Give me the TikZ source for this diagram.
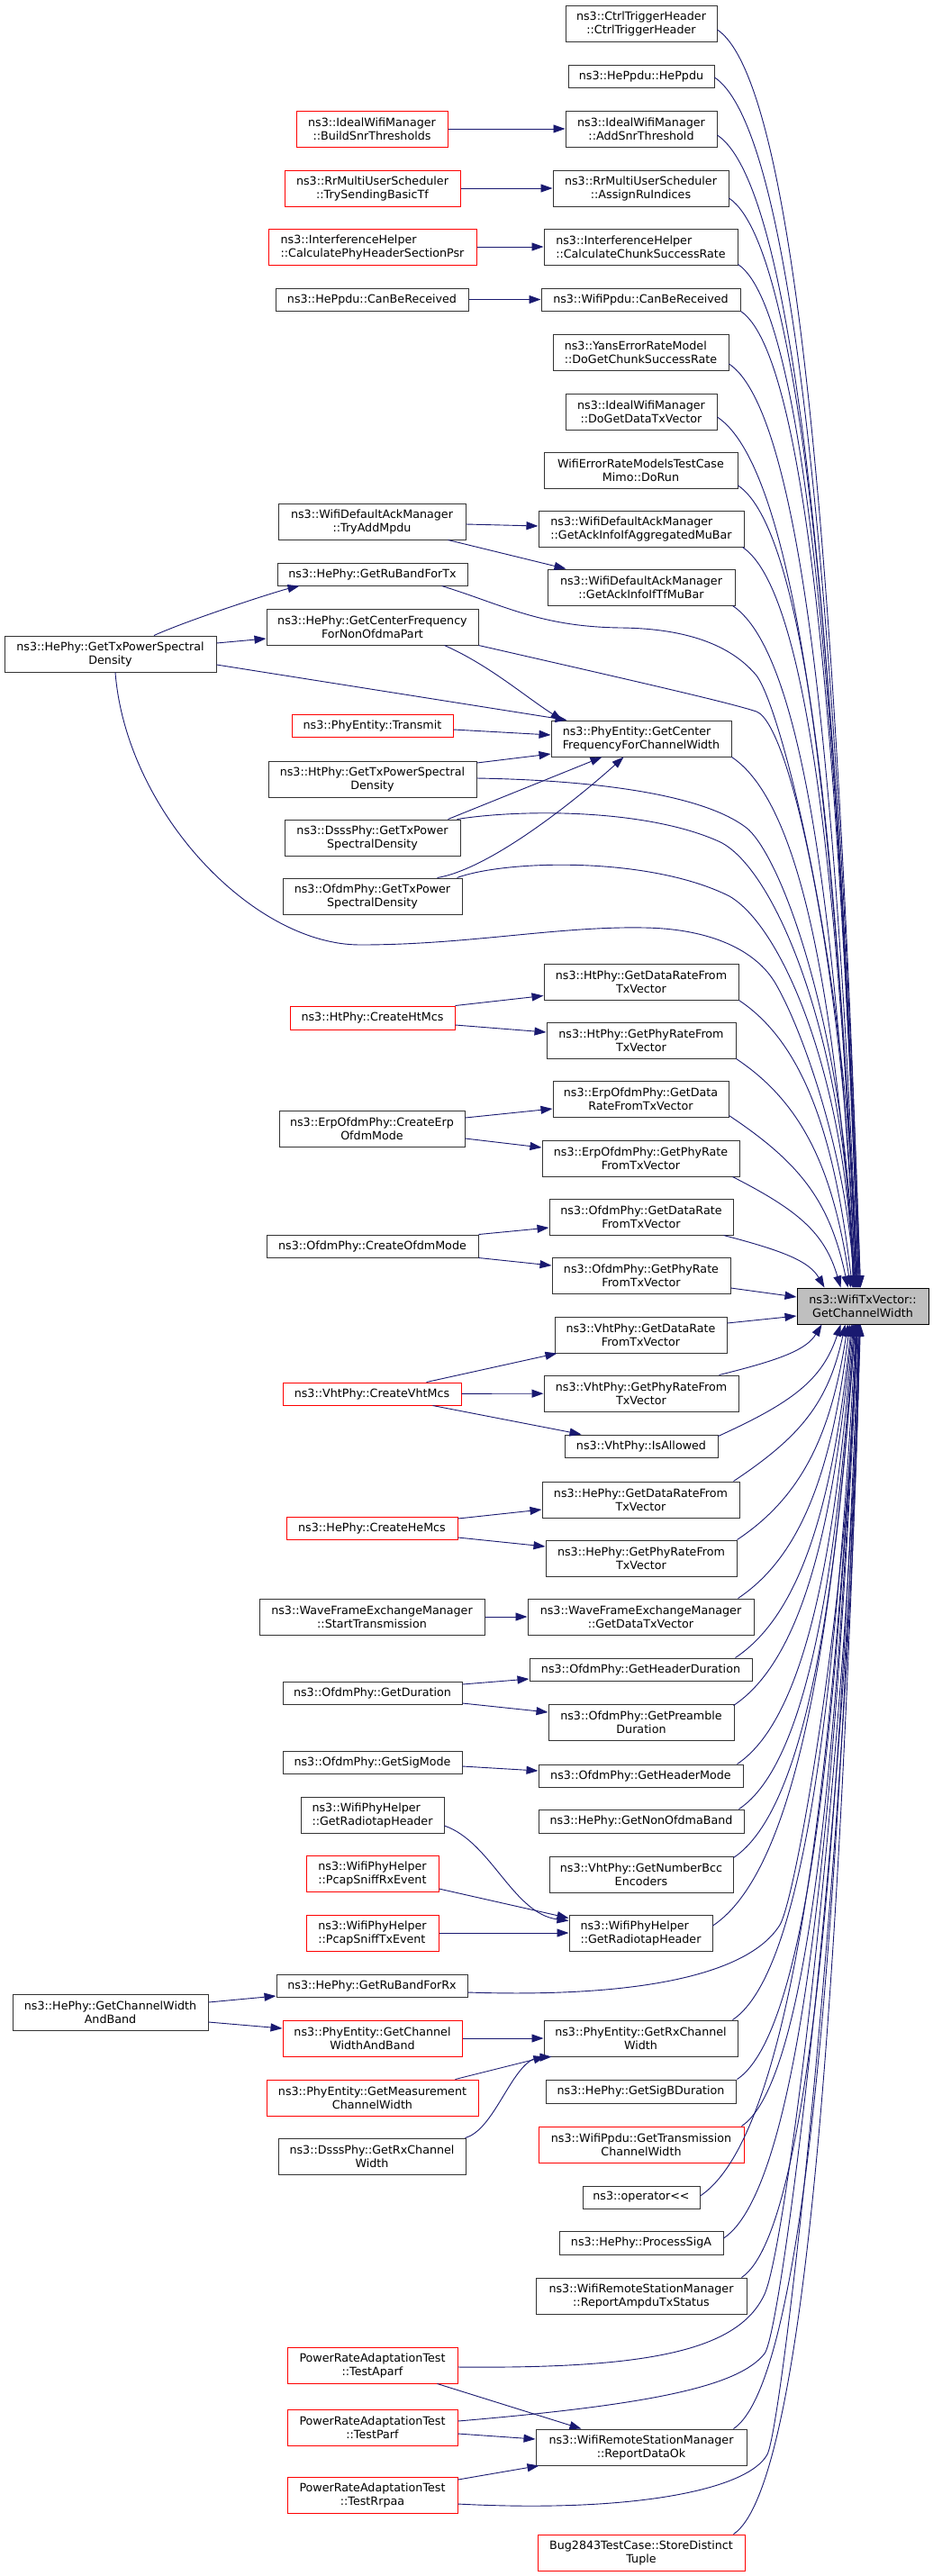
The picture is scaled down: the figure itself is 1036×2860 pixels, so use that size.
\documentclass[tikz,border=0pt]{standalone}
\usepackage{fontspec}
\setmainfont{DejaVu Sans}
\usetikzlibrary{arrows.meta,calc}
\definecolor{edgec}{HTML}{191970}
\definecolor{bordc}{HTML}{333333}
\definecolor{tfill}{HTML}{BFBFBF}
\tikzset{
  box/.style={draw=bordc, line width=1pt, fill=white, inner sep=0pt, align=center, font=\fontsize{12.7}{15}\selectfont},
  rb/.style={draw=red},
  lft/.style={align=left},
  edg/.style={draw=edgec, line width=0.9pt, -{Triangle[length=13pt,width=9pt]}},
}
% #1 style, #2 name, #3 x1, #4 x2, #5 y1, #6 y2, #7 text
\newcommand\nb[7][]{\node[box,#1,minimum width={(#4-#3)*1pt},minimum height={(#6-#5)*1pt}] (#2) at ({(#3+#4)/2},{(#5+#6)/2}) {#7};}
% caller above the target: start point, landing x on the top side
\newcommand\tdn[2]{\draw[edg] let \p1=#1, \p2=($(t.north west)+(#2-885,0)$), \n1={\x2-\x1}, \n2={\y1-\y2}, \n3={min(0.4*\n1,0.3*\n2)} in (\p1) .. controls ($(\p1)+(0.6*\n1,-\n3)$) and ($(\p2)+(-0.15*\n1,0.5*\n2)$) .. (\p2);}
% caller below the target: start point, landing x on the bottom side
\newcommand\tup[2]{\draw[edg] let \p1=#1, \p2=($(t.south west)+(#2-885,0)$), \n1={\x2-\x1}, \n2={\y2-\y1}, \n3={min(0.4*\n1,0.3*\n2)} in (\p1) .. controls ($(\p1)+(0.6*\n1,\n3)$) and ($(\p2)+(-0.15*\n1,-0.5*\n2)$) .. (\p2);}
\begin{document}
\begin{tikzpicture}[x=1pt,y=-1pt]
\fill[white] (0,0) rectangle (1036,2860);
\useasboundingbox (0,0) rectangle (1036,2860);
% target
\nb[fill=tfill,draw=black]{t}{885}{1031}{1430}{1470}{ns3::WifiTxVector::\\GetChannelWidth}
% column 2
\nb{ctrl}{628}{796}{6}{46}{ns3::CtrlTriggerHeader\\::CtrlTriggerHeader}
\nb{heppdu}{631}{793}{72}{97}{ns3::HePpdu::HePpdu}
\nb{addsnr}{628}{796}{123}{163}{ns3::IdealWifiManager\\::AddSnrThreshold}
\nb{assignru}{614}{809}{189}{229}{ns3::RrMultiUserScheduler\\::AssignRuIndices}
\nb[lft]{chunk}{604}{819}{254}{294}{ns3::InterferenceHelper\\::CalculateChunkSuccessRate}
\nb{wppdu}{601}{822}{320}{345}{ns3::WifiPpdu::CanBeReceived}
\nb[lft]{yans}{614}{809}{371}{411}{ns3::YansErrorRateModel\\::DoGetChunkSuccessRate}
\nb{dogdtx}{628}{796}{437}{477}{ns3::IdealWifiManager\\::DoGetDataTxVector}
\nb{mimo}{604}{819}{502}{542}{WifiErrorRateModelsTestCase\\Mimo::DoRun}
\nb[lft]{aggmu}{598}{826}{567}{607}{ns3::WifiDefaultAckManager\\::GetAckInfoIfAggregatedMuBar}
\nb{tfmu}{608}{816}{632}{672}{ns3::WifiDefaultAckManager\\::GetAckInfoIfTfMuBar}
\nb[lft]{pecf}{612}{812}{800}{840}{ns3::PhyEntity::GetCenter\\FrequencyForChannelWidth}
\nb{htdr}{604}{820}{1070}{1110}{ns3::HtPhy::GetDataRateFrom\\TxVector}
\nb{htpr}{607}{817}{1135}{1175}{ns3::HtPhy::GetPhyRateFrom\\TxVector}
\nb{erpdr}{614}{809}{1200}{1240}{ns3::ErpOfdmPhy::GetData\\RateFromTxVector}
\nb{erppr}{602}{821}{1266}{1306}{ns3::ErpOfdmPhy::GetPhyRate\\FromTxVector}
\nb{ofdr}{610}{814}{1331}{1371}{ns3::OfdmPhy::GetDataRate\\FromTxVector}
\nb{ofpr}{613}{811}{1396}{1436}{ns3::OfdmPhy::GetPhyRate\\FromTxVector}
\nb{vhtdr}{616}{807}{1462}{1502}{ns3::VhtPhy::GetDataRate\\FromTxVector}
\nb{vhtpr}{604}{820}{1527}{1567}{ns3::VhtPhy::GetPhyRateFrom\\TxVector}
\nb{vhtal}{627}{797}{1593}{1618}{ns3::VhtPhy::IsAllowed}
\nb{hedr}{602}{821}{1645}{1685}{ns3::HePhy::GetDataRateFrom\\TxVector}
\nb{hepr}{606}{818}{1710}{1750}{ns3::HePhy::GetPhyRateFrom\\TxVector}
\nb{wfgdtx}{586}{837}{1775}{1815}{ns3::WaveFrameExchangeManager\\::GetDataTxVector}
\nb{ofhd}{588}{835}{1841}{1866}{ns3::OfdmPhy::GetHeaderDuration}
\nb{ofpd}{609}{815}{1892}{1932}{ns3::OfdmPhy::GetPreamble\\Duration}
\nb{ofhm}{598}{825}{1959}{1984}{ns3::OfdmPhy::GetHeaderMode}
\nb{henob}{598}{826}{2009}{2035}{ns3::HePhy::GetNonOfdmaBand}
\nb{vhtbcc}{610}{814}{2061}{2101}{ns3::VhtPhy::GetNumberBcc\\Encoders}
\nb[lft]{rth2}{632}{791}{2126}{2166}{ns3::WifiPhyHelper\\::GetRadiotapHeader}
\nb{perx}{604}{819}{2243}{2283}{ns3::PhyEntity::GetRxChannel\\Width}
\nb{hesigb}{606}{817}{2309}{2335}{ns3::HePhy::GetSigBDuration}
\nb[rb]{txcw}{598}{826}{2361}{2401}{ns3::WifiPpdu::GetTransmission\\ChannelWidth}
\nb{oper}{647}{777}{2427}{2452}{ns3::operator\mbox{<}\mbox{<}}
\nb{sigA}{621}{803}{2477}{2503}{ns3::HePhy::ProcessSigA}
\nb{ampdu}{595}{829}{2529}{2569}{ns3::WifiRemoteStationManager\\::ReportAmpduTxStatus}
\nb{rdok}{595}{829}{2697}{2737}{ns3::WifiRemoteStationManager\\::ReportDataOk}
\nb[rb]{bug}{597}{827}{2814}{2854}{Bug2843TestCase::StoreDistinct\\Tuple}
% column 1
\nb[rb]{bsnr}{329}{497}{123}{163}{ns3::IdealWifiManager\\::BuildSnrThresholds}
\nb[rb]{tsbt}{316}{511}{189}{229}{ns3::RrMultiUserScheduler\\::TrySendingBasicTf}
\nb[rb,lft]{phsp}{298}{529}{254}{294}{ns3::InterferenceHelper\\::CalculatePhyHeaderSectionPsr}
\nb{hecbr}{306}{520}{320}{345}{ns3::HePpdu::CanBeReceived}
\nb{tam}{309}{517}{559}{599}{ns3::WifiDefaultAckManager\\::TryAddMpdu}
\nb{rbtx}{308}{519}{625}{650}{ns3::HePhy::GetRuBandForTx}
\nb{cfno}{296}{531}{676}{716}{ns3::HePhy::GetCenterFrequency\\ForNonOfdmaPart}
\nb[rb]{trans}{324}{503}{793}{818}{ns3::PhyEntity::Transmit}
\nb{httx}{298}{529}{845}{885}{ns3::HtPhy::GetTxPowerSpectral\\Density}
\nb{dstx}{316}{511}{910}{950}{ns3::DsssPhy::GetTxPower\\SpectralDensity}
\nb{oftx}{314}{513}{975}{1015}{ns3::OfdmPhy::GetTxPower\\SpectralDensity}
\nb[rb]{htmcs}{322}{505}{1117}{1143}{ns3::HtPhy::CreateHtMcs}
\nb{erpm}{310}{516}{1233}{1273}{ns3::ErpOfdmPhy::CreateErp\\OfdmMode}
\nb{ofm}{296}{531}{1371}{1396}{ns3::OfdmPhy::CreateOfdmMode}
\nb[rb]{vhtmcs}{314}{512}{1535}{1560}{ns3::VhtPhy::CreateVhtMcs}
\nb[rb]{hemcs}{318}{508}{1684}{1709}{ns3::HePhy::CreateHeMcs}
\nb{wfst}{288}{538}{1775}{1815}{ns3::WaveFrameExchangeManager\\::StartTransmission}
\nb{ofdur}{314}{513}{1867}{1892}{ns3::OfdmPhy::GetDuration}
\nb{ofsig}{314}{513}{1944}{1969}{ns3::OfdmPhy::GetSigMode}
\nb[lft]{rth1}{334}{493}{1995}{2035}{ns3::WifiPhyHelper\\::GetRadiotapHeader}
\nb[rb,lft]{psrx}{340}{487}{2060}{2100}{ns3::WifiPhyHelper\\::PcapSniffRxEvent}
\nb[rb,lft]{pstx}{340}{487}{2126}{2166}{ns3::WifiPhyHelper\\::PcapSniffTxEvent}
\nb{rbrx}{307}{519}{2192}{2217}{ns3::HePhy::GetRuBandForRx}
\nb[rb]{pecwb}{314}{513}{2243}{2283}{ns3::PhyEntity::GetChannel\\WidthAndBand}
\nb[rb]{pemcw}{296}{531}{2309}{2349}{ns3::PhyEntity::GetMeasurement\\ChannelWidth}
\nb{dsrx}{309}{517}{2374}{2414}{ns3::DsssPhy::GetRxChannel\\Width}
\nb[rb]{aparf}{319}{508}{2606}{2646}{PowerRateAdaptationTest\\::TestAparf}
\nb[rb]{parf}{319}{508}{2675}{2715}{PowerRateAdaptationTest\\::TestParf}
\nb[rb]{rrpaa}{319}{508}{2750}{2790}{PowerRateAdaptationTest\\::TestRrpaa}
% column 0
\nb{hetx}{5}{240}{706}{746}{ns3::HePhy::GetTxPowerSpectral\\Density}
\nb{hecwb}{14}{231}{2214}{2254}{ns3::HePhy::GetChannelWidth\\AndBand}

% ---- edges into the target from above
\tdn{($(ctrl.east)+(0,7)$)}{956}
\tdn{($(heppdu.east)+(0,1.5)$)}{956}
\tdn{($(addsnr.east)+(0,7)$)}{955}
\tdn{($(assignru.east)+(0,11)$)}{955}
\tdn{($(chunk.south east)+(0,-1)$)}{954}
\tdn{(wppdu.south east)}{954}
\tdn{($(yans.east)+(0,13)$)}{953}
\tdn{($(dogdtx.east)+(0,6)$)}{953}
\tdn{($(mimo.east)+(0,17)$)}{952}
\tdn{($(aggmu.south east)+(-2,0)$)}{952}
\tdn{($(tfmu.south east)+(-3,0)$)}{951}
\tdn{(pecf.south east)}{950}
\tdn{(htdr.south east)}{947}
\tdn{(htpr.south east)}{945}
\tdn{($(erpdr.south east)+(0,-2)$)}{942}
\tdn{($(erppr.south east)+(-8,0)$)}{934}
\tdn{($(ofdr.south east)+(-11,0)$)}{916}
\draw[edg] ($(ofpr.east)+(0,14)$) -- ($(t.west)+(0,-10)$);
\draw[edg] ($(vhtdr.east)+(0,-13)$) -- ($(t.west)+(0,11)$);
% ---- edges into the target from below
\tup{($(vhtpr.north east)+(-22,0)$)}{913}
\tup{($(vhtal.north east)+(0,2)$)}{934}
\tup{($(hedr.north east)+(-7,0)$)}{939}
\tup{(hepr.north east)}{942}
\tup{($(wfgdtx.north east)+(-18,0)$)}{944}
\tup{($(ofhd.north east)+(-19,0)$)}{946}
\tup{($(ofpd.north east)+(-1,2)$)}{947}
\tup{($(ofhm.north east)+(-7,0)$)}{948}
\tup{($(henob.north east)+(-6,0)$)}{949}
\tup{($(vhtbcc.north east)+(0,2)$)}{950}
\tup{($(rth2.east)+(0,-8)$)}{950}
\tup{($(perx.north east)+(-6,0)$)}{951}
\tup{($(hesigb.north east)+(1,0)$)}{952}
\tup{($(txcw.north east)+(-3,0)$)}{952}
\tup{($(oper.east)+(0,-1.5)$)}{953}
\tup{($(sigA.east)+(0,-5)$)}{953}
\tup{($(ampdu.north east)+(-6,0)$)}{954}
\tup{($(rdok.north east)+(-15,0)$)}{955}
\tup{($(bug.north east)+(-13,0)$)}{956}

% ---- long routed edges into the target
\draw[edg] ($(rbtx.south east)+(-29,0)$) .. controls (560,672) and (600,696) .. (690,697)
  .. controls (770,698) and (815,720) .. (840,750)
  .. controls (870,790) and (945,1100) .. ($(t.north west)+(951-885,0)$);
\draw[edg] (cfno.south east) .. controls (700,755) and (810,780) .. (840,790)
  .. controls (880,805) and (940,1100) .. ($(t.north west)+(950-885,0)$);
\draw[edg] ($(hetx.south)+(5.5,0)$) .. controls (140,900) and (280,1049) .. (400,1049)
  .. controls (520,1049) and (620,1028) .. (716,1030)
  .. controls (780,1031) and (835,1050) .. (860,1090)
  .. controls (890,1140) and (940,1280) .. ($(t.north west)+(949-885,0)$);
\draw[edg] ($(httx.east)+(0,-1)$) .. controls (650,866) and (780,880) .. (830,920)
  .. controls (870,955) and (940,1150) .. ($(t.north west)+(949-885,0)$);
\draw[edg] ($(dstx.north east)+(-4,0)$) .. controls (580,898) and (720,898) .. (800,935)
  .. controls (860,965) and (940,1150) .. ($(t.north west)+(948-885,0)$);
\draw[edg] ($(oftx.north east)+(-6,0)$) .. controls (560,955) and (720,950) .. (810,995)
  .. controls (870,1030) and (940,1200) .. ($(t.north west)+(948-885,0)$);
\draw[edg] ($(rbrx.east)+(0,7.5)$) .. controls (700,2218) and (830,2195) .. (866,2137)
  .. controls (885,2105) and (945,1750) .. ($(t.south west)+(951-885,0)$);
\draw[edg] ($(aparf.east)+(0,2)$) .. controls (720,2630) and (820,2610) .. (849,2547)
  .. controls (875,2490) and (945,1900) .. ($(t.south west)+(954-885,0)$);
\draw[edg] ($(parf.east)+(0,-7)$) .. controls (720,2670) and (820,2650) .. (849,2613)
  .. controls (870,2585) and (946,1950) .. ($(t.south west)+(955-885,0)$);
\draw[edg] ($(rrpaa.east)+(0,10)$) .. controls (700,2790) and (830,2765) .. (852,2725)
  .. controls (870,2690) and (946,2000) .. ($(t.south west)+(955-885,0)$);

% ---- edges between callers
\draw[edg] (bsnr) -- (addsnr);
\draw[edg] (tsbt) -- (assignru);
\draw[edg] (phsp) -- (chunk);
\draw[edg] (hecbr) -- (wppdu);
\draw[edg] ($(tam.east)+(0,3)$) -- ($(aggmu.west)+(0,-3)$);
\draw[edg] ($(tam.south east)+(-20,0)$) -- ($(tfmu.north west)+(21,0)$);
\draw[edg] ($(hetx.north)+(48.5,0)$) .. controls +(40,-18) and +(-25,6) .. ($(rbtx.south west)+(25,0)$);
\draw[edg] ($(hetx.east)+(0,-12)$) -- ($(cfno.west)+(0,13)$);
\draw[edg] ($(hetx.east)+(0,12)$) -- ($(pecf.north west)+(18,0)$);
\draw[edg] ($(cfno.south east)+(-38,0)$) .. controls +(50,22) and +(-40,-25) .. ($(pecf.north west)+(13,0)$);
\draw[edg] ($(trans.east)+(0,4.5)$) -- ($(pecf.west)+(0,-4)$);
\draw[edg] ($(httx.east)+(0,-18)$) -- ($(pecf.west)+(0,17)$);
\draw[edg] ($(dstx.north east)+(-14,0)$) -- ($(pecf.south west)+(57,0)$);
\draw[edg] ($(oftx.north east)+(-28,0)$) .. controls +(60,-10) and +(-50,45) .. ($(pecf.south west)+(81,0)$);
\draw[edg] (htmcs.north east) -- ($(htdr.south west)+(0,-5)$);
\draw[edg] ($(htmcs.east)+(0,8)$) -- ($(htpr.west)+(0,-9)$);
\draw[edg] ($(erpm.east)+(0,-12)$) -- ($(erpdr.west)+(0,11)$);
\draw[edg] ($(erpm.east)+(0,11)$) -- ($(erppr.west)+(0,-12)$);
\draw[edg] (ofm.north east) -- ($(ofdr.west)+(0,12)$);
\draw[edg] (ofm.south east) -- ($(ofpr.west)+(0,-11)$);
\draw[edg] ($(vhtmcs.north east)+(-39,0)$) -- ($(vhtdr.south west)+(3,0)$);
\draw[edg] (vhtmcs) -- (vhtpr);
\draw[edg] ($(vhtmcs.south east)+(-32,0)$) -- ($(vhtal.north west)+(19,0)$);
\draw[edg] ($(hemcs.east)+(0,-10.5)$) -- ($(hedr.west)+(0,11)$);
\draw[edg] ($(hemcs.east)+(0,10.5)$) -- ($(hepr.west)+(0,-13)$);
\draw[edg] (wfst) -- (wfgdtx);
\draw[edg] ($(ofdur.east)+(0,-9.5)$) -- ($(ofhd.west)+(0,10.5)$);
\draw[edg] ($(ofdur.east)+(0,11.5)$) -- ($(ofpd.west)+(0,-11)$);
\draw[edg] ($(ofsig.east)+(0,4.5)$) -- ($(ofhm.west)+(0,-5.5)$);
\draw[edg] ($(rth1.east)+(0,12)$) .. controls +(52,18) and +(-62,-8) .. ($(rth2.north west)+(0,7)$);
\draw[edg] ($(psrx.east)+(0,17)$) -- ($(rth2.north west)+(0,4)$);
\draw[edg] (pstx) -- (rth2);
\draw[edg] ($(hecwb.east)+(0,-11)$) -- ($(rbrx.west)+(0,11.5)$);
\draw[edg] ($(hecwb.east)+(0,11)$) -- ($(pecwb.west)+(0,-11)$);
\draw[edg] (pecwb) -- (perx);
\draw[edg] ($(pemcw.north east)+(-26,0)$) -- ($(perx.south west)+(2,0)$);
\draw[edg] ($(dsrx.north east)+(-1,0)$) .. controls +(34,-9) and +(-43,2) .. ($(perx.south west)+(9,0)$);
\draw[edg] ($(aparf.south east)+(-23,0)$) -- ($(rdok.north west)+(51,0)$);
\draw[edg] ($(parf.east)+(0,7)$) -- ($(rdok.west)+(0,-9)$);
\draw[edg] ($(rrpaa.east)+(0,-17)$) -- ($(rdok.south west)+(4,0)$);
\end{tikzpicture}
\end{document}
